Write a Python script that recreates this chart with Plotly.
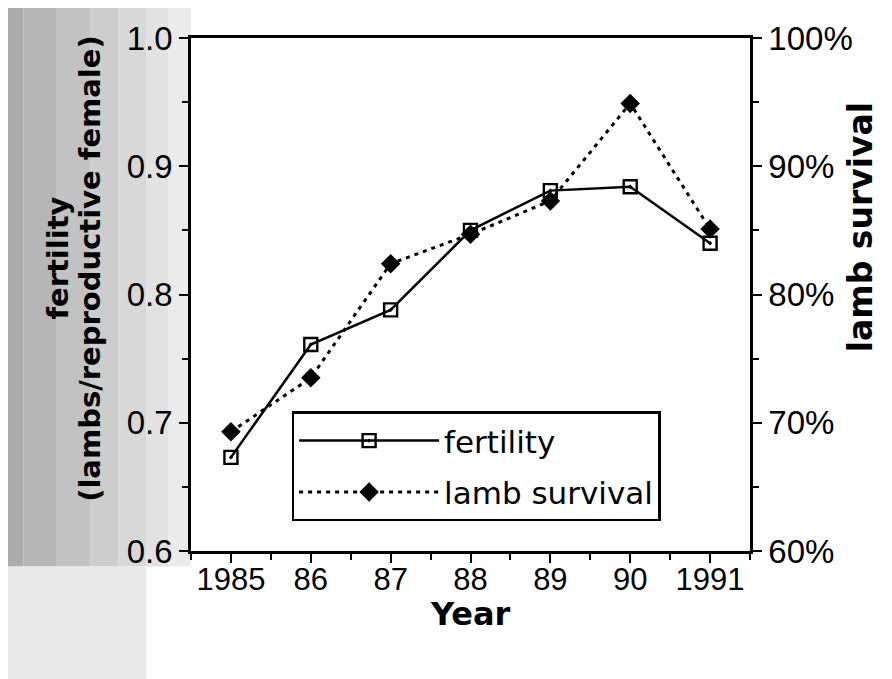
import plotly.graph_objects as go

years = [1985, 1986, 1987, 1988, 1989, 1990, 1991]
year_labels = ["1985", "86", "87", "88", "89", "90", "1991"]
fertility = [0.673, 0.761, 0.788, 0.850, 0.881, 0.884, 0.840]
lamb_survival = [69.3, 73.5, 82.4, 84.7, 87.3, 94.9, 85.1]

TICK_FONT = "Liberation Sans, Arial, sans-serif"
TITLE_FONT = "DejaVu Sans, Verdana, sans-serif"

fig = go.Figure()
fig.add_trace(go.Scatter(
    x=years, y=fertility, name="fertility", mode="lines+markers",
    line=dict(color="black", width=2.5),
    marker=dict(symbol="square-open-dot", size=13, color="black", line=dict(width=2.4)),
    legendgroup="a",
))
fig.add_trace(go.Scatter(
    x=years, y=lamb_survival, name="lamb survival", mode="lines+markers", yaxis="y2",
    line=dict(color="black", width=3, dash="4px,5px"),
    marker=dict(symbol="diamond", size=15, color="black"),
    legendgroup="b",
))

# scanned-paper shading on the left edge
shade = [(-0.42, -0.30, "#acacac"), (-0.30, -0.24, "#b6b6b6"), (-0.24, -0.18, "#c2c2c2"),
         (-0.18, -0.13, "#cdcdcd"), (-0.13, -0.08, "#d8d8d8"), (-0.08, -0.04, "#e2e2e2"),
         (-0.04, 0.0, "#ebebeb")]
shapes = []
for x0, x1, c in shade:
    shapes.append(dict(type="rect", xref="paper", yref="paper", x0=x0, x1=x1, y0=-0.03, y1=1.1,
                       fillcolor=c, line=dict(width=0), layer="below"))
shapes.append(dict(type="rect", xref="paper", yref="paper", x0=-0.42, x1=-0.08, y0=-0.3, y1=-0.03,
                   fillcolor="#e9e9e9", line=dict(width=0), layer="below"))

axis_line = dict(showline=True, linecolor="black", linewidth=2.5, showgrid=False, zeroline=False)

fig.update_layout(
    width=892, height=679,
    paper_bgcolor="white", plot_bgcolor="white",
    margin=dict(l=183, r=150, t=24, b=136),
    showlegend=True,
    shapes=shapes,
    xaxis=dict(
        **axis_line, mirror=True, range=[1984.5, 1991.5],
        tickmode="array", tickvals=years, ticktext=year_labels,
        ticks="outside", ticklen=9, tickwidth=2, tickcolor="black", ticklabelstandoff=-10,
        minor=dict(tickmode="linear", tick0=1984.5, dtick=0.5, ticks="outside", ticklen=6, tickwidth=2, tickcolor="black"),
        tickfont=dict(family=TICK_FONT, size=31, color="black"),
    ),
    yaxis=dict(
        **axis_line, range=[0.6, 1.0], dtick=0.1, tickformat=".1f",
        ticks="outside", ticklen=9, tickwidth=2, tickcolor="black",
        minor=dict(dtick=0.05, ticks="outside", ticklen=6, tickwidth=2, tickcolor="black"),
        tickfont=dict(family=TICK_FONT, size=33, color="black"),
    ),
    yaxis2=dict(
        **axis_line, overlaying="y", side="right", range=[60, 100], dtick=10, ticksuffix="%",
        ticks="outside", ticklen=9, tickwidth=2, tickcolor="black",
        minor=dict(dtick=5, ticks="outside", ticklen=6, tickwidth=2, tickcolor="black"),
        tickfont=dict(family=TICK_FONT, size=33, color="black"),
    ),
    legend=dict(
        x=0.18, y=0.272, xanchor="left", yanchor="top",
        bordercolor="black", borderwidth=2.5, bgcolor="white",
        font=dict(family=TITLE_FONT, size=31, color="black"),
        itemwidth=140, tracegroupgap=8,
    ),
    annotations=[
        dict(text="<b>fertility</b>", xref="paper", yref="paper", x=0, y=0.57, xshift=-152,
             textangle=-90, showarrow=False, font=dict(family=TITLE_FONT, size=29, color="black")),
        dict(text="<b>(lambs/reproductive female)</b>", xref="paper", yref="paper", x=0, y=0.55, xshift=-120,
             textangle=-90, showarrow=False, font=dict(family=TITLE_FONT, size=29, color="black")),
        dict(text="<b>lamb survival</b>", xref="paper", yref="paper", x=1, y=0.63, xshift=132,
             textangle=-90, showarrow=False, font=dict(family=TITLE_FONT, size=33, color="black")),
        dict(text="<b>Year</b>", xref="paper", yref="paper", x=0.5, y=0, yanchor="top", yshift=-42,
             showarrow=False, font=dict(family=TITLE_FONT, size=32, color="black")),
    ],
)

fig.write_html("out.html")
